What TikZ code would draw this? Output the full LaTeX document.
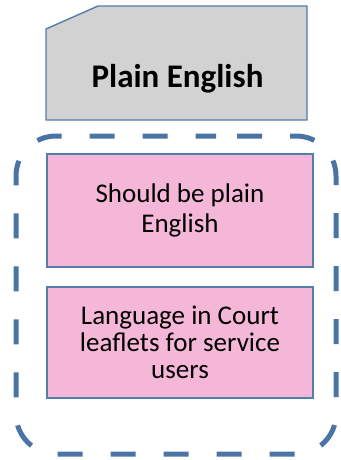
\documentclass[tikz,border=0pt]{standalone}
\usepackage{fontspec}
\setmainfont{Carlito}
\definecolor{edgeblue}{RGB}{84,125,172}
\definecolor{dashblue}{RGB}{74,116,166}
\definecolor{boxgray}{RGB}{210,210,210}
\definecolor{boxpink}{RGB}{245,183,215}
\begin{document}
\begin{tikzpicture}[x=1pt,y=1pt,
  pinkbox/.style={draw=edgeblue,line width=1.3pt,fill=boxpink,minimum width=266pt,
    align=center,inner sep=0pt,font=\fontsize{27}{27}\selectfont,text=black}]
\useasboundingbox (0,0) rectangle (340,-460);
% gray tab shape
\draw[draw=edgeblue,line width=1.4pt,fill=boxgray]
  (46,-29) -- (98,-6) -- (307,-6) -- (307,-120) -- (46,-120) -- cycle;
\node[anchor=base,font=\fontsize{33}{36}\selectfont\bfseries] (title) at (177.5,-87) {Plain English};
% dashed container
\draw[dashblue,line width=5pt,dash pattern=on 25pt off 28pt,dash phase=32pt,rounded corners=40pt]
  (176,-136) -- (336,-136) -- (336,-454) -- (16,-454) -- (16,-136) -- cycle;
\node[pinkbox,minimum height=113pt,font=\fontsize{27}{30}\selectfont] (b1) at (180,-210.5) {Should be plain\\English};
\node[pinkbox,minimum height=111pt] (b2) at (180,-342.5) {Language in Court\\leaflets for service\\users};
\end{tikzpicture}
\end{document}
